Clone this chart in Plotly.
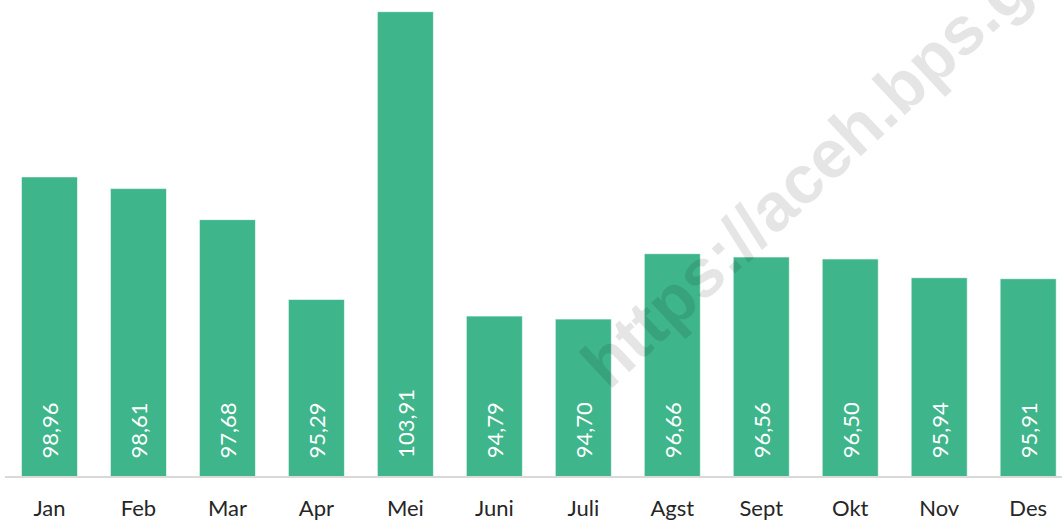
import plotly.graph_objects as go

# data
months = ["Jan", "Feb", "Mar", "Apr", "Mei", "Juni", "Juli", "Agst", "Sept", "Okt", "Nov", "Des"]
values = [98.96, 98.61, 97.68, 95.29, 103.91, 94.79, 94.70, 96.66, 96.56, 96.50, 95.94, 95.91]
labels = [f"{v:.2f}".replace(".", ",") for v in values]

bar_color = "#3EB58A"

fig = go.Figure()
fig.add_trace(go.Bar(
    x=months, y=values,
    marker=dict(color=bar_color, line=dict(color="rgba(255,255,255,0.6)", width=1)),
    hoverinfo="x+y",
))

# value labels rotated at the foot of each bar
for m, t in zip(months, labels):
    fig.add_annotation(
        x=m, y=90, yanchor="bottom", yshift=16,
        text=t, textangle=-90, showarrow=False,
        font=dict(family="Lato", size=22, color="white"),
    )

# watermark
fig.add_annotation(
    xref="paper", yref="paper", x=0.799, y=0.718,
    xanchor="center", yanchor="middle",
    text="<b>https://aceh.bps.go.id</b>", textangle=-43, showarrow=False,
    font=dict(family="Liberation Sans", size=68, color="rgba(0,0,0,0.1)"),
)

fig.update_layout(
    width=1062, height=520,
    margin=dict(l=5, r=0, t=0, b=44),
    paper_bgcolor="white", plot_bgcolor="white",
    bargap=0.37,
    showlegend=False,
    font=dict(family="Lato", size=22, color="#262626"),
)
fig.update_xaxes(
    range=[-0.5, 11.38],
    showline=True, linecolor="#d9d9d9", linewidth=2,
    showgrid=False, ticks="", ticklabelstandoff=12,
    tickfont=dict(size=22, color="#262626"),
)
fig.update_yaxes(
    range=[90, 104.26], visible=False, showgrid=False,
)

# page body has a default margin; drop it so the figure fills the window
fig.write_html("out.html", config={"displayModeBar": False},
               post_script="document.body.style.margin='0';")
